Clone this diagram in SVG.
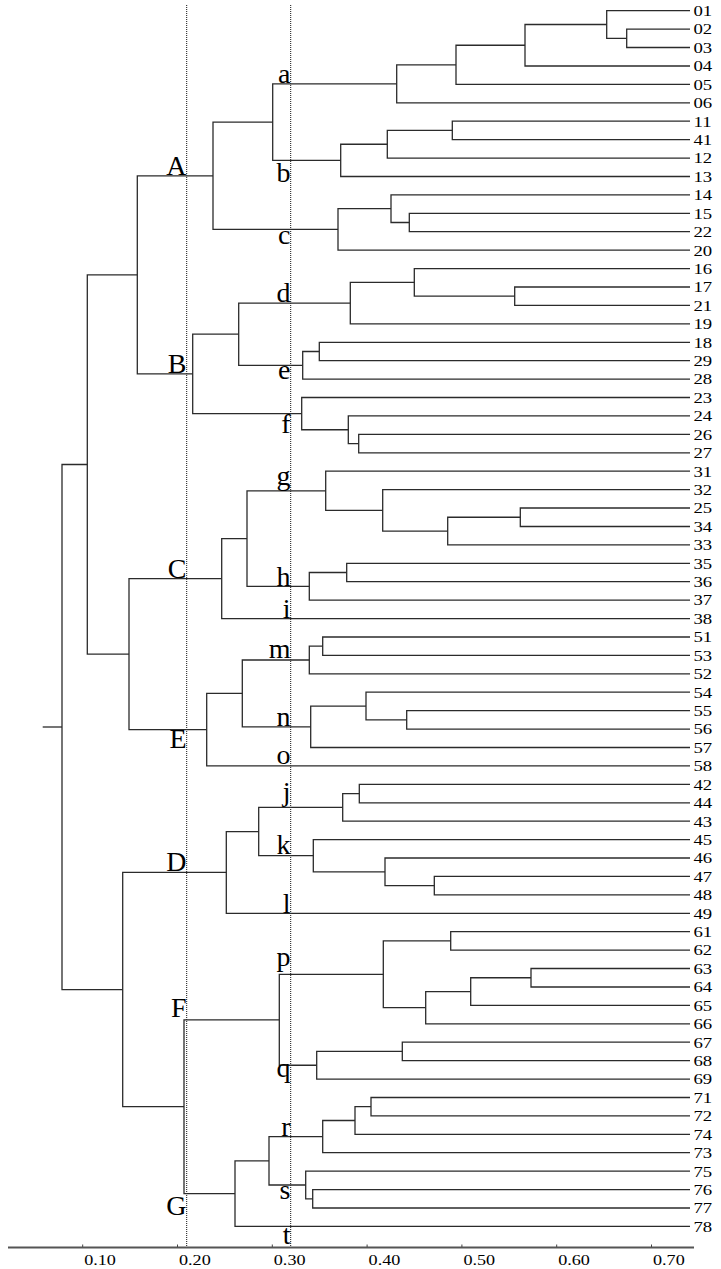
<svg xmlns="http://www.w3.org/2000/svg" width="721" height="1269" viewBox="0 0 721 1269">
<style>
.t{fill:none;stroke:#2b2b2b;stroke-width:1.3}
.dot{fill:none;stroke:#111;stroke-width:1;stroke-dasharray:1 1}
.ax{fill:none;stroke:#555;stroke-width:2}
.tk{fill:none;stroke:#444;stroke-width:1}
.lf{font-family:"Liberation Serif","Times New Roman",serif;font-size:15px;fill:#000}
.cl{font-family:"Liberation Serif","Times New Roman",serif;font-size:28px;fill:#000;text-anchor:end}
</style>
<rect width="721" height="1269" fill="#fff"/>
<g id="guides">
<line class="dot" x1="186.7" y1="5" x2="186.7" y2="1247"/>
<line class="dot" x1="290.7" y1="5" x2="290.7" y2="1247"/>
</g>
<g id="connectors" class="t">
<path d="M690 29.1H626.7V47.5H690"/>
<path d="M690 10.7H606.7V38.3H626.7"/>
<path d="M606.7 24.5H525V66H690"/>
<path d="M525 45.25H456V84.4H690"/>
<path d="M456 64.8H396.7V102.8H690"/>
<path d="M690 121.2H452.3V139.6H690"/>
<path d="M452.3 130.4H387.3V158.1H690"/>
<path d="M387.3 144.25H340.7V176.5H690"/>
<path d="M396.7 83.8H272.7V160.4H340.7"/>
<path d="M690 213.3H409.3V231.7H690"/>
<path d="M690 194.9H391V222.5H409.3"/>
<path d="M391 208.7H338V250.2H690"/>
<path d="M272.7 122.1H213V229.45H338"/>
<path d="M690 287H514.7V305.4H690"/>
<path d="M690 268.6H414.3V296.2H514.7"/>
<path d="M414.3 282.4H350.3V323.8H690"/>
<path d="M690 342.3H319.3V360.7H690"/>
<path d="M319.3 351.5H302.7V379.1H690"/>
<path d="M350.3 303.1H238.7V365.3H302.7"/>
<path d="M690 434.4H358.7V452.8H690"/>
<path d="M690 415.9H348.3V443.6H358.7"/>
<path d="M690 397.5H301.7V429.75H348.3"/>
<path d="M238.7 334.2H192.7V413.6H301.7"/>
<path d="M213 175.8H137.3V373.9H192.7"/>
<path d="M690 508H520.3V526.5H690"/>
<path d="M520.3 517.25H447.7V544.9H690"/>
<path d="M690 489.6H382.7V531.1H447.7"/>
<path d="M690 471.2H325.7V510.35H382.7"/>
<path d="M690 563.3H346.7V581.7H690"/>
<path d="M346.7 572.5H309.3V600.1H690"/>
<path d="M325.7 490.8H247V586.3H309.3"/>
<path d="M247 538.55H221.7V618.6H690"/>
<path d="M690 637H322.7V655.4H690"/>
<path d="M322.7 646.2H309.3V673.8H690"/>
<path d="M690 710.7H406.7V729.1H690"/>
<path d="M690 692.2H366V719.9H406.7"/>
<path d="M366 706.05H310.7V747.5H690"/>
<path d="M309.3 660H242.3V726.8H310.7"/>
<path d="M242.3 693.4H206.7V765.9H690"/>
<path d="M221.7 578.6H129V729.65H206.7"/>
<path d="M137.3 274.85H87.3V654.1H129"/>
<path d="M690 784.3H359.3V802.8H690"/>
<path d="M359.3 793.55H342.7V821.2H690"/>
<path d="M690 876.4H434.3V894.9H690"/>
<path d="M690 858H385V885.65H434.3"/>
<path d="M690 839.6H313.3V871.8H385"/>
<path d="M342.7 807.4H258.7V855.7H313.3"/>
<path d="M258.7 831.55H226.3V913.3H690"/>
<path d="M690 931.7H450.7V950.1H690"/>
<path d="M690 968.5H531V987H690"/>
<path d="M531 977.75H470.7V1005.4H690"/>
<path d="M470.7 991.6H425.7V1023.8H690"/>
<path d="M450.7 940.9H383.3V1007.7H425.7"/>
<path d="M690 1042.2H402.3V1060.6H690"/>
<path d="M402.3 1051.4H316.7V1079.1H690"/>
<path d="M383.3 974.3H279.3V1065.25H316.7"/>
<path d="M690 1097.5H371V1115.9H690"/>
<path d="M371 1106.7H355V1134.3H690"/>
<path d="M355 1120.5H322.7V1152.7H690"/>
<path d="M690 1189.6H312.7V1208H690"/>
<path d="M690 1171.2H305.7V1198.8H312.7"/>
<path d="M322.7 1136.6H269V1185H305.7"/>
<path d="M269 1160.8H235V1226.4H690"/>
<path d="M279.3 1019.8H184V1193.6H235"/>
<path d="M226.3 872.4H122.7V1106.7H184"/>
<path d="M87.3 464.5H62V989.55H122.7"/>
<path d="M42.7 727H62"/>
</g>
<g id="leaves" class="lf">
<g id="leaf-01"><text transform="translate(693.5,16) scale(1.25,1)">01</text></g>
<g id="leaf-02"><text transform="translate(693.5,34.4) scale(1.25,1)">02</text></g>
<g id="leaf-03"><text transform="translate(693.5,52.8) scale(1.25,1)">03</text></g>
<g id="leaf-04"><text transform="translate(693.5,71.3) scale(1.25,1)">04</text></g>
<g id="leaf-05"><text transform="translate(693.5,89.7) scale(1.25,1)">05</text></g>
<g id="leaf-06"><text transform="translate(693.5,108.1) scale(1.25,1)">06</text></g>
<g id="leaf-11"><text transform="translate(693.5,126.5) scale(1.25,1)">11</text></g>
<g id="leaf-41"><text transform="translate(693.5,144.9) scale(1.25,1)">41</text></g>
<g id="leaf-12"><text transform="translate(693.5,163.4) scale(1.25,1)">12</text></g>
<g id="leaf-13"><text transform="translate(693.5,181.8) scale(1.25,1)">13</text></g>
<g id="leaf-14"><text transform="translate(693.5,200.2) scale(1.25,1)">14</text></g>
<g id="leaf-15"><text transform="translate(693.5,218.6) scale(1.25,1)">15</text></g>
<g id="leaf-22"><text transform="translate(693.5,237) scale(1.25,1)">22</text></g>
<g id="leaf-20"><text transform="translate(693.5,255.5) scale(1.25,1)">20</text></g>
<g id="leaf-16"><text transform="translate(693.5,273.9) scale(1.25,1)">16</text></g>
<g id="leaf-17"><text transform="translate(693.5,292.3) scale(1.25,1)">17</text></g>
<g id="leaf-21"><text transform="translate(693.5,310.7) scale(1.25,1)">21</text></g>
<g id="leaf-19"><text transform="translate(693.5,329.1) scale(1.25,1)">19</text></g>
<g id="leaf-18"><text transform="translate(693.5,347.6) scale(1.25,1)">18</text></g>
<g id="leaf-29"><text transform="translate(693.5,366) scale(1.25,1)">29</text></g>
<g id="leaf-28"><text transform="translate(693.5,384.4) scale(1.25,1)">28</text></g>
<g id="leaf-23"><text transform="translate(693.5,402.8) scale(1.25,1)">23</text></g>
<g id="leaf-24"><text transform="translate(693.5,421.2) scale(1.25,1)">24</text></g>
<g id="leaf-26"><text transform="translate(693.5,439.7) scale(1.25,1)">26</text></g>
<g id="leaf-27"><text transform="translate(693.5,458.1) scale(1.25,1)">27</text></g>
<g id="leaf-31"><text transform="translate(693.5,476.5) scale(1.25,1)">31</text></g>
<g id="leaf-32"><text transform="translate(693.5,494.9) scale(1.25,1)">32</text></g>
<g id="leaf-25"><text transform="translate(693.5,513.3) scale(1.25,1)">25</text></g>
<g id="leaf-34"><text transform="translate(693.5,531.8) scale(1.25,1)">34</text></g>
<g id="leaf-33"><text transform="translate(693.5,550.2) scale(1.25,1)">33</text></g>
<g id="leaf-35"><text transform="translate(693.5,568.6) scale(1.25,1)">35</text></g>
<g id="leaf-36"><text transform="translate(693.5,587) scale(1.25,1)">36</text></g>
<g id="leaf-37"><text transform="translate(693.5,605.4) scale(1.25,1)">37</text></g>
<g id="leaf-38"><text transform="translate(693.5,623.9) scale(1.25,1)">38</text></g>
<g id="leaf-51"><text transform="translate(693.5,642.3) scale(1.25,1)">51</text></g>
<g id="leaf-53"><text transform="translate(693.5,660.7) scale(1.25,1)">53</text></g>
<g id="leaf-52"><text transform="translate(693.5,679.1) scale(1.25,1)">52</text></g>
<g id="leaf-54"><text transform="translate(693.5,697.5) scale(1.25,1)">54</text></g>
<g id="leaf-55"><text transform="translate(693.5,716) scale(1.25,1)">55</text></g>
<g id="leaf-56"><text transform="translate(693.5,734.4) scale(1.25,1)">56</text></g>
<g id="leaf-57"><text transform="translate(693.5,752.8) scale(1.25,1)">57</text></g>
<g id="leaf-58"><text transform="translate(693.5,771.2) scale(1.25,1)">58</text></g>
<g id="leaf-42"><text transform="translate(693.5,789.6) scale(1.25,1)">42</text></g>
<g id="leaf-44"><text transform="translate(693.5,808.1) scale(1.25,1)">44</text></g>
<g id="leaf-43"><text transform="translate(693.5,826.5) scale(1.25,1)">43</text></g>
<g id="leaf-45"><text transform="translate(693.5,844.9) scale(1.25,1)">45</text></g>
<g id="leaf-46"><text transform="translate(693.5,863.3) scale(1.25,1)">46</text></g>
<g id="leaf-47"><text transform="translate(693.5,881.7) scale(1.25,1)">47</text></g>
<g id="leaf-48"><text transform="translate(693.5,900.2) scale(1.25,1)">48</text></g>
<g id="leaf-49"><text transform="translate(693.5,918.6) scale(1.25,1)">49</text></g>
<g id="leaf-61"><text transform="translate(693.5,937) scale(1.25,1)">61</text></g>
<g id="leaf-62"><text transform="translate(693.5,955.4) scale(1.25,1)">62</text></g>
<g id="leaf-63"><text transform="translate(693.5,973.8) scale(1.25,1)">63</text></g>
<g id="leaf-64"><text transform="translate(693.5,992.3) scale(1.25,1)">64</text></g>
<g id="leaf-65"><text transform="translate(693.5,1010.7) scale(1.25,1)">65</text></g>
<g id="leaf-66"><text transform="translate(693.5,1029.1) scale(1.25,1)">66</text></g>
<g id="leaf-67"><text transform="translate(693.5,1047.5) scale(1.25,1)">67</text></g>
<g id="leaf-68"><text transform="translate(693.5,1065.9) scale(1.25,1)">68</text></g>
<g id="leaf-69"><text transform="translate(693.5,1084.4) scale(1.25,1)">69</text></g>
<g id="leaf-71"><text transform="translate(693.5,1102.8) scale(1.25,1)">71</text></g>
<g id="leaf-72"><text transform="translate(693.5,1121.2) scale(1.25,1)">72</text></g>
<g id="leaf-74"><text transform="translate(693.5,1139.6) scale(1.25,1)">74</text></g>
<g id="leaf-73"><text transform="translate(693.5,1158) scale(1.25,1)">73</text></g>
<g id="leaf-75"><text transform="translate(693.5,1176.5) scale(1.25,1)">75</text></g>
<g id="leaf-76"><text transform="translate(693.5,1194.9) scale(1.25,1)">76</text></g>
<g id="leaf-77"><text transform="translate(693.5,1213.3) scale(1.25,1)">77</text></g>
<g id="leaf-78"><text transform="translate(693.5,1231.7) scale(1.25,1)">78</text></g>
</g>
<g id="clusters" class="cl">
<g id="cluster-A"><text x="186.5" y="175">A</text></g>
<g id="cluster-B"><text x="186.5" y="373.3">B</text></g>
<g id="cluster-C"><text x="186.5" y="578.3">C</text></g>
<g id="cluster-E"><text x="186.5" y="748.3">E</text></g>
<g id="cluster-D"><text x="186.5" y="871">D</text></g>
<g id="cluster-F"><text x="186.5" y="1017.3">F</text></g>
<g id="cluster-G"><text x="186.5" y="1215">G</text></g>
<g id="cluster-a"><text x="290.5" y="83.3">a</text></g>
<g id="cluster-b"><text x="290.5" y="181.7">b</text></g>
<g id="cluster-c"><text x="290.5" y="244">c</text></g>
<g id="cluster-d"><text x="290.5" y="301.7">d</text></g>
<g id="cluster-e"><text x="290.5" y="379.3">e</text></g>
<g id="cluster-f"><text x="290.5" y="433.3">f</text></g>
<g id="cluster-g"><text x="290.5" y="485">g</text></g>
<g id="cluster-h"><text x="290.5" y="586">h</text></g>
<g id="cluster-i"><text x="290.5" y="617.7">i</text></g>
<g id="cluster-m"><text x="290.5" y="658.3">m</text></g>
<g id="cluster-n"><text x="290.5" y="726">n</text></g>
<g id="cluster-o"><text x="290.5" y="764.3">o</text></g>
<g id="cluster-j"><text x="290.5" y="800.5">j</text></g>
<g id="cluster-k"><text x="290.5" y="854.3">k</text></g>
<g id="cluster-l"><text x="290.5" y="912.7">l</text></g>
<g id="cluster-p"><text x="290.5" y="965.6">p</text></g>
<g id="cluster-q"><text x="290.5" y="1076.7">q</text></g>
<g id="cluster-r"><text x="290.5" y="1136">r</text></g>
<g id="cluster-s"><text x="290.5" y="1199.3">s</text></g>
<g id="cluster-t"><text x="290.5" y="1244">t</text></g>
</g>
<g id="axis">
<line class="ax" x1="8" y1="1247.5" x2="694" y2="1247.5"/>
<path class="tk" d="M82.7 1244.5V1247M177.5 1244.5V1247M272.3 1244.5V1247M367.1 1244.5V1247M461.9 1244.5V1247M556.7 1244.5V1247M651.5 1244.5V1247"/>
<g class="lf" style="font-size:14.5px">
<text transform="translate(84.2,1264.5) scale(1.25,1)">0.10</text>
<text transform="translate(179,1264.5) scale(1.25,1)">0.20</text>
<text transform="translate(273.8,1264.5) scale(1.25,1)">0.30</text>
<text transform="translate(368.6,1264.5) scale(1.25,1)">0.40</text>
<text transform="translate(463.4,1264.5) scale(1.25,1)">0.50</text>
<text transform="translate(558.2,1264.5) scale(1.25,1)">0.60</text>
<text transform="translate(653,1264.5) scale(1.25,1)">0.70</text>
</g>
</g>
</svg>
